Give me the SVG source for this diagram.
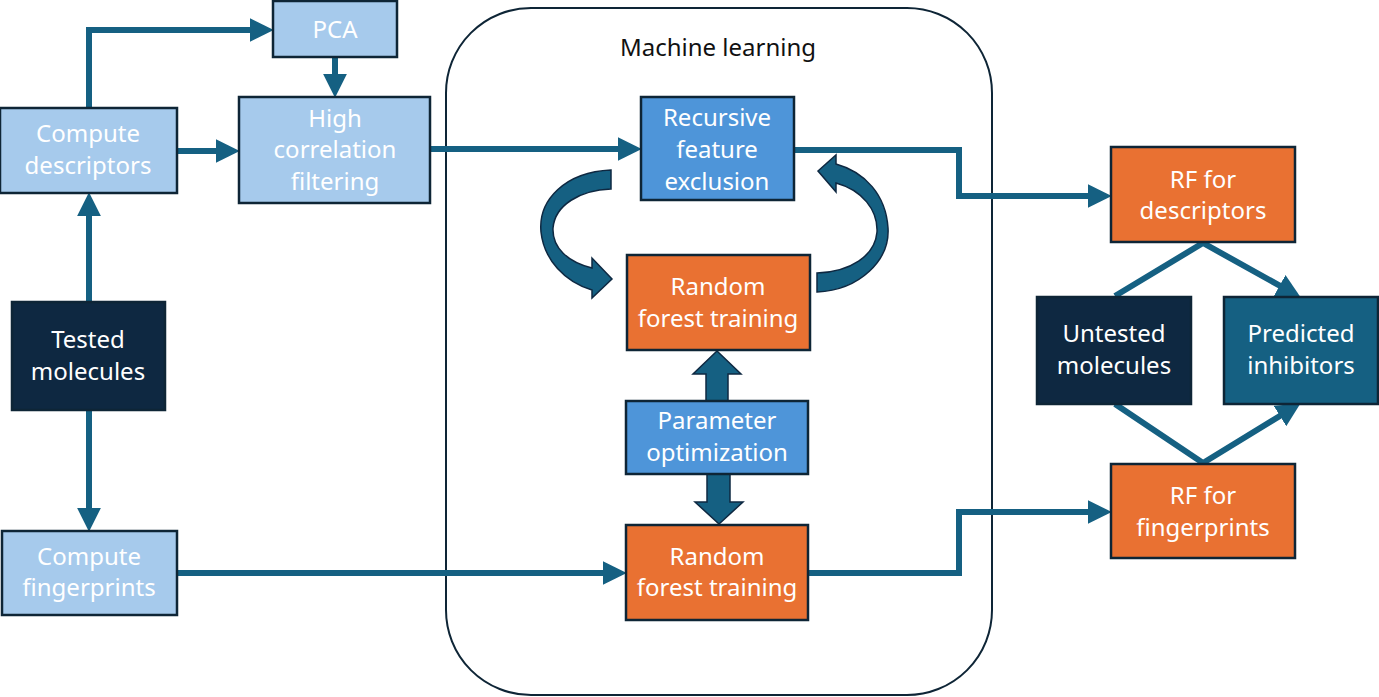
<svg xmlns="http://www.w3.org/2000/svg" width="1379" height="697" viewBox="0 0 1379 697">
<style>
.box{stroke:#0e2536;stroke-width:2.5}
.lb{fill:#a6caec}
.mb{fill:#4e95d9}
.or{fill:#e97132}
.nv{fill:#0e2841}
.tl{fill:#156082}
.t{font-family:"Noto Sans","Open Sans","DejaVu Sans",sans-serif;font-size:24px;fill:#ffffff;text-anchor:middle}
.c{fill:none;stroke:#156082;stroke-width:6;stroke-linejoin:miter}
.fat{fill:#156082;stroke:#0e2841;stroke-width:1.5;stroke-linejoin:miter}
</style>
<defs>
<marker id="ah" markerUnits="userSpaceOnUse" markerWidth="24" markerHeight="24" viewBox="0 0 22 22" refX="14" refY="11" orient="auto">
<path d="M0,0 L22,11 L0,22 Z" fill="#156082"/>
</marker>
</defs>
<rect width="1379" height="697" fill="#ffffff"/>
<g id="ml-container">
<rect x="446" y="8" width="546" height="687" rx="85" ry="85" fill="none" stroke="#0e2536" stroke-width="2"/>
<text x="718" y="56" font-family="'Noto Sans','Open Sans',sans-serif" font-size="24" fill="#111111" text-anchor="middle">Machine learning</text>
</g>
<g id="connectors">
<path class="c" d="M89 108 V30 H265" marker-end="url(#ah)"/>
<path class="c" d="M335 57 V89" marker-end="url(#ah)"/>
<path class="c" d="M177 151 H231" marker-end="url(#ah)"/>
<path class="c" d="M430 149 H633" marker-end="url(#ah)"/>
<path class="c" d="M89 302 V201" marker-end="url(#ah)"/>
<path class="c" d="M89 410 V523" marker-end="url(#ah)"/>
<path class="c" d="M177 573 H618" marker-end="url(#ah)"/>
<path class="c" d="M794 150 H959 V196 H1103" marker-end="url(#ah)"/>
<path class="c" d="M808 573 H959 V512 H1103" marker-end="url(#ah)"/>
<path class="c" d="M1115 296 L1203 243 L1293 293" marker-end="url(#ah)"/>
<path class="c" d="M1115 404 L1203 463 L1293 408" marker-end="url(#ah)"/>
<path class="fat" d="M706 401 V374 H693 L717 351 L741 374 H728 V401 Z"/>
<path class="fat" d="M707 474 V502 H695 L719 524 L743 502 H730 V474 Z"/>
<path class="fat" d="M611 170 C565 172 538 200 541 232 C544 260 565 282 592 290 L592 298 L612 279 L592 258 L592 268 C568 262 552 248 553 228 C555 205 580 190 611 189 Z"/>
<path class="fat" d="M817 292 C860 290 890 260 888 228 C886 195 865 172 836 164 L836 155 L818 171 L836 192 L836 183 C862 190 878 210 877 232 C875 256 850 272 817 273 Z"/>
</g>
<g id="pca"><rect class="box lb" x="273" y="1" width="124" height="56"/><text class="t" x="335" y="38">PCA</text></g>
<g id="compute-descriptors"><rect class="box lb" x="0" y="108" width="177" height="85"/><text class="t" x="88" y="142">Compute</text><text class="t" x="88" y="174">descriptors</text></g>
<g id="high-correlation"><rect class="box lb" x="239" y="97" width="191" height="106"/><text class="t" x="335" y="127">High</text><text class="t" x="335" y="158">correlation</text><text class="t" x="335" y="190">filtering</text></g>
<g id="tested-molecules"><rect class="box nv" x="12" y="302" width="153" height="108"/><text class="t" x="88" y="348">Tested</text><text class="t" x="88" y="380">molecules</text></g>
<g id="compute-fingerprints"><rect class="box lb" x="2" y="531" width="175" height="84"/><text class="t" x="89" y="565">Compute</text><text class="t" x="89" y="596">fingerprints</text></g>
<g id="rfe"><rect class="box mb" x="641" y="97" width="153" height="103"/><text class="t" x="717" y="126">Recursive</text><text class="t" x="717" y="158">feature</text><text class="t" x="717" y="190">exclusion</text></g>
<g id="rf-training-top"><rect class="box or" x="627" y="255" width="183" height="95"/><text class="t" x="718" y="295">Random</text><text class="t" x="718" y="327">forest training</text></g>
<g id="param-opt"><rect class="box mb" x="626" y="401" width="182" height="73"/><text class="t" x="717" y="429">Parameter</text><text class="t" x="717" y="461">optimization</text></g>
<g id="rf-training-bottom"><rect class="box or" x="626" y="525" width="182" height="95"/><text class="t" x="717" y="565">Random</text><text class="t" x="717" y="596">forest training</text></g>
<g id="rf-descriptors"><rect class="box or" x="1111" y="147" width="184" height="95"/><text class="t" x="1203" y="188">RF for</text><text class="t" x="1203" y="219">descriptors</text></g>
<g id="untested-molecules"><rect class="box nv" x="1037" y="297" width="154" height="107"/><text class="t" x="1114" y="342">Untested</text><text class="t" x="1114" y="374">molecules</text></g>
<g id="predicted-inhibitors"><rect class="box tl" x="1224" y="297" width="154" height="107"/><text class="t" x="1301" y="342">Predicted</text><text class="t" x="1301" y="374">inhibitors</text></g>
<g id="rf-fingerprints"><rect class="box or" x="1111" y="464" width="184" height="94"/><text class="t" x="1203" y="504">RF for</text><text class="t" x="1203" y="536">fingerprints</text></g>
</svg>
